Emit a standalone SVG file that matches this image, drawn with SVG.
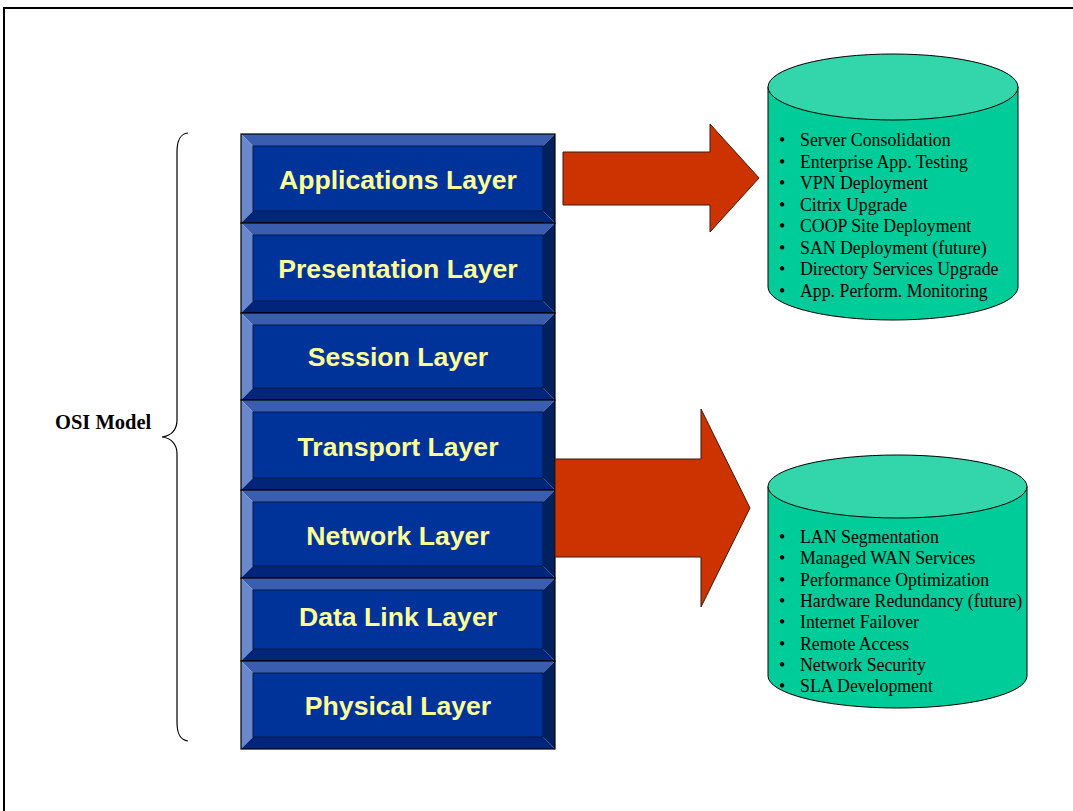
<svg xmlns="http://www.w3.org/2000/svg" width="1073" height="811" viewBox="0 0 1073 811">
  <style>
    .bt { fill: #3a5db0; }
    .bl { fill: #6a88cc; }
    .br { fill: #00205e; }
    .bb { fill: #00257a; }
    .face { fill: #003399; stroke: #001a4d; stroke-width: 1; }
    .edge { fill: none; stroke: #000; stroke-width: 1.2; }
    .lbl { font-family: "Liberation Sans", Arial, sans-serif; font-weight: bold; font-size: 26.6px; fill: #ffff99; text-anchor: middle; }
    .arrow { fill: #cc3300; stroke: #3a1a10; stroke-width: 1; }
    .cylbody { fill: #00cc99; stroke: #000; stroke-width: 1; }
    .cyltop { fill: #33d6aa; stroke: #000; stroke-width: 1; }
    .item { font-family: "Liberation Serif", "Times New Roman", serif; font-size: 17.8px; fill: #000; }
    .osi { font-family: "Liberation Serif", "Times New Roman", serif; font-weight: bold; font-size: 20.5px; fill: #000; }
  </style>

  <rect width="1073" height="811" fill="#ffffff"/>
  <!-- page frame -->
  <rect x="4" y="8" width="1090" height="830" fill="none" stroke="#000" stroke-width="2"/>

  <!-- OSI model brace and caption -->
  <g id="osi-model">
    <path d="M188,133 C180,134 177,140 177,152 L177,420 C177,430 171,436 162,437 C171,438 177,444 177,454 L177,722 C177,734 180,740 188,741" fill="none" stroke="#000" stroke-width="1.2"/>
    <text class="osi" x="55" y="429">OSI Model</text>
  </g>

  <!-- layer stack -->
  <g id="layer-applications">
    <polygon class="bt" points="241,134 555,134 543,146 253,146"/>
    <polygon class="bl" points="241,134 253,146 253,211 241,223"/>
    <polygon class="br" points="555,134 555,223 543,211 543,146"/>
    <polygon class="bb" points="241,223 253,211 543,211 555,223"/>
    <rect class="face" x="253" y="146" width="290" height="65"/>
    <rect class="edge" x="241" y="134" width="314" height="89"/>
    <text class="lbl" x="398" y="189">Applications Layer</text>
  </g>
  <g id="layer-presentation">
    <polygon class="bt" points="241,223 555,223 543,235 253,235"/>
    <polygon class="bl" points="241,223 253,235 253,301 241,313"/>
    <polygon class="br" points="555,223 555,313 543,301 543,235"/>
    <polygon class="bb" points="241,313 253,301 543,301 555,313"/>
    <rect class="face" x="253" y="235" width="290" height="66"/>
    <rect class="edge" x="241" y="223" width="314" height="90"/>
    <text class="lbl" x="398" y="278">Presentation Layer</text>
  </g>
  <g id="layer-session">
    <polygon class="bt" points="241,313 555,313 543,325 253,325"/>
    <polygon class="bl" points="241,313 253,325 253,388 241,400"/>
    <polygon class="br" points="555,313 555,400 543,388 543,325"/>
    <polygon class="bb" points="241,400 253,388 543,388 555,400"/>
    <rect class="face" x="253" y="325" width="290" height="63"/>
    <rect class="edge" x="241" y="313" width="314" height="87"/>
    <text class="lbl" x="398" y="366">Session Layer</text>
  </g>
  <g id="layer-transport">
    <polygon class="bt" points="241,400 555,400 543,412 253,412"/>
    <polygon class="bl" points="241,400 253,412 253,478 241,490"/>
    <polygon class="br" points="555,400 555,490 543,478 543,412"/>
    <polygon class="bb" points="241,490 253,478 543,478 555,490"/>
    <rect class="face" x="253" y="412" width="290" height="66"/>
    <rect class="edge" x="241" y="400" width="314" height="90"/>
    <text class="lbl" x="398" y="456">Transport Layer</text>
  </g>
  <g id="layer-network">
    <polygon class="bt" points="241,490 555,490 543,502 253,502"/>
    <polygon class="bl" points="241,490 253,502 253,566 241,578"/>
    <polygon class="br" points="555,490 555,578 543,566 543,502"/>
    <polygon class="bb" points="241,578 253,566 543,566 555,578"/>
    <rect class="face" x="253" y="502" width="290" height="64"/>
    <rect class="edge" x="241" y="490" width="314" height="88"/>
    <text class="lbl" x="398" y="545">Network Layer</text>
  </g>
  <g id="layer-datalink">
    <polygon class="bt" points="241,578 555,578 543,590 253,590"/>
    <polygon class="bl" points="241,578 253,590 253,649 241,661"/>
    <polygon class="br" points="555,578 555,661 543,649 543,590"/>
    <polygon class="bb" points="241,661 253,649 543,649 555,661"/>
    <rect class="face" x="253" y="590" width="290" height="59"/>
    <rect class="edge" x="241" y="578" width="314" height="83"/>
    <text class="lbl" x="398" y="626">Data Link Layer</text>
  </g>
  <g id="layer-physical">
    <polygon class="bt" points="241,661 555,661 543,673 253,673"/>
    <polygon class="bl" points="241,661 253,673 253,737 241,749"/>
    <polygon class="br" points="555,661 555,749 543,737 543,673"/>
    <polygon class="bb" points="241,749 253,737 543,737 555,749"/>
    <rect class="face" x="253" y="673" width="290" height="64"/>
    <rect class="edge" x="241" y="661" width="314" height="88"/>
    <text class="lbl" x="398" y="715">Physical Layer</text>
  </g>

  <!-- block arrows -->
  <g id="connectors">
    <polygon class="arrow" points="563,152 710,152 710,124 759,178 710,232 710,205 563,205"/>
    <polygon class="arrow" points="555,459 701,459 701,409 750,508 701,607 701,557 555,557"/>
  </g>

  <!-- application services store -->
  <g id="store-applications">
    <path class="cylbody" d="M768,87 L768,287 A125,33 0 0 0 1018,287 L1018,87 Z"/>
    <ellipse class="cyltop" cx="893" cy="87" rx="125" ry="33"/>
    <g class="item">
      <text x="779" y="146">•</text><text x="800" y="146">Server Consolidation</text>
      <text x="779" y="167.5">•</text><text x="800" y="167.5">Enterprise App. Testing</text>
      <text x="779" y="189">•</text><text x="800" y="189">VPN Deployment</text>
      <text x="779" y="210.5">•</text><text x="800" y="210.5">Citrix Upgrade</text>
      <text x="779" y="232">•</text><text x="800" y="232">COOP Site Deployment</text>
      <text x="779" y="253.5">•</text><text x="800" y="253.5">SAN Deployment (future)</text>
      <text x="779" y="275">•</text><text x="800" y="275">Directory Services Upgrade</text>
      <text x="779" y="296.5">•</text><text x="800" y="296.5">App. Perform. Monitoring</text>
    </g>
  </g>

  <!-- network services store -->
  <g id="store-network">
    <path class="cylbody" d="M768,486.5 L768,676 A129.5,32 0 0 0 1027,676 L1027,486.5 Z"/>
    <ellipse class="cyltop" cx="897.5" cy="486.5" rx="129.5" ry="31.5"/>
    <g class="item">
      <text x="779" y="543">•</text><text x="800" y="543">LAN Segmentation</text>
      <text x="779" y="564.3">•</text><text x="800" y="564.3">Managed WAN Services</text>
      <text x="779" y="585.6">•</text><text x="800" y="585.6">Performance Optimization</text>
      <text x="779" y="606.9">•</text><text x="800" y="606.9">Hardware Redundancy (future)</text>
      <text x="779" y="628.2">•</text><text x="800" y="628.2">Internet Failover</text>
      <text x="779" y="649.5">•</text><text x="800" y="649.5">Remote Access</text>
      <text x="779" y="670.8">•</text><text x="800" y="670.8">Network Security</text>
      <text x="779" y="692.1">•</text><text x="800" y="692.1">SLA Development</text>
    </g>
  </g>
</svg>
